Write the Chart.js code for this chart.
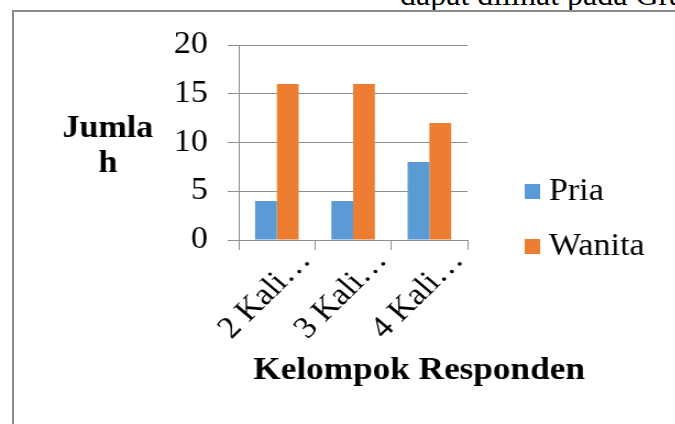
<!DOCTYPE html>
<html>
<head>
<meta charset="utf-8">
<script src="https://cdn.jsdelivr.net/npm/chart.js@4/dist/chart.umd.min.js"></script>
<style>
  html, body { margin: 0; padding: 0; background: #fff; overflow: hidden; }
  body { width: 675px; height: 424px; position: relative; }
  #docText {
    position: absolute; left: 400px; top: -22px; white-space: nowrap;
    font-family: "Liberation Serif", "Times New Roman", serif; font-size: 32px; line-height: 32px; color: #000;
  }
  #frame {
    position: absolute; left: 12px; top: 10px; width: 700px; height: 500px;
    border-left: 2px solid #8c8c8c; border-top: 2px solid #8c8c8c;
  }
  /* the picture in the document is a little wider than tall, so stretch the chart */
  #wrap {
    position: absolute; left: 0; top: 0; width: 614px; height: 424px;
    transform: scaleX(1.1); transform-origin: 0 0;
  }
</style>
</head>
<body>
<div id="docText">dapat dilihat pada Grafik</div>
<div id="frame"></div>
<div id="wrap"><canvas id="chart"></canvas></div>
<script>
// Chart data
const categories = ["2 Kali…", "3 Kali…", "4 Kali…"];
const seriesNames = ["Pria", "Wanita"];
const pria = [4, 4, 8];
const wanita = [16, 16, 12];
const yTitle = ["Jumla", "h"];
const xTitle = "Kelompok Responden";

// Styles
const SERIF = '"Liberation Serif", "Times New Roman", serif';
const FONT_SIZE = 31;
const GRID = "#8f8f8f";
const COLORS = ["#5B9BD5", "#ED7D31"];

// Titles and legend drawn by hand (Excel style, unrotated y title)
const decorations = {
  id: "decorations",
  afterDraw(chart) {
    const ctx = chart.ctx;
    ctx.save();
    ctx.fillStyle = "#000";
    ctx.font = "bold " + FONT_SIZE + "px " + SERIF;
    ctx.textAlign = "center";
    ctx.textBaseline = "alphabetic";
    ctx.fillText(yTitle[0], 98, 137);
    ctx.fillText(yTitle[1], 98, 172);
    ctx.font = "bold 32px " + SERIF;
    ctx.fillText(xTitle, 381, 379);

    // legend
    ctx.font = FONT_SIZE + "px " + SERIF;
    ctx.textAlign = "left";
    chart.data.datasets.forEach((ds, i) => {
      const y = 184 + i * 55;
      ctx.fillStyle = ds.backgroundColor;
      ctx.fillRect(477, y, 14, 15);
      ctx.fillStyle = "#000";
      ctx.fillText(ds.label, 499, y + 16);
    });
    ctx.restore();
  }
};

const ctx = document.getElementById("chart").getContext("2d");
const chart = new Chart(ctx, {
  type: "bar",
  data: {
    labels: categories,
    datasets: [
      { label: seriesNames[0], data: pria, backgroundColor: COLORS[0] },
      { label: seriesNames[1], data: wanita, backgroundColor: COLORS[1] },
    ],
  },
  options: {
    responsive: true,
    maintainAspectRatio: false,
    animation: false,
    categoryPercentage: 0.571,
    barPercentage: 1,
    layout: { padding: { left: 0, top: 45, right: 189, bottom: 0 } },
    plugins: {
      legend: { display: false },
      tooltip: { enabled: false },
    },
    scales: {
      x: {
        afterFit: (s) => { s.height = 184; },
        grid: { offset: true, drawOnChartArea: false, drawTicks: true, tickLength: 10, color: GRID },
        border: { color: GRID },
        ticks: {
          autoSkip: false,
          minRotation: 47,
          maxRotation: 47,
          padding: -5,
          labelOffset: 26,
          color: "#000",
          font: { family: SERIF, size: FONT_SIZE, lineHeight: 1 },
        },
      },
      y: {
        min: 0,
        max: 20,
        afterFit: (s) => { s.width = 217; },
        grid: { color: GRID, tickLength: 10 },
        border: { color: GRID },
        ticks: {
          stepSize: 5,
          padding: 18,
          color: "#000",
          font: { family: SERIF, size: FONT_SIZE },
        },
      },
    },
  },
  plugins: [decorations],
});
</script>
</body>
</html>
